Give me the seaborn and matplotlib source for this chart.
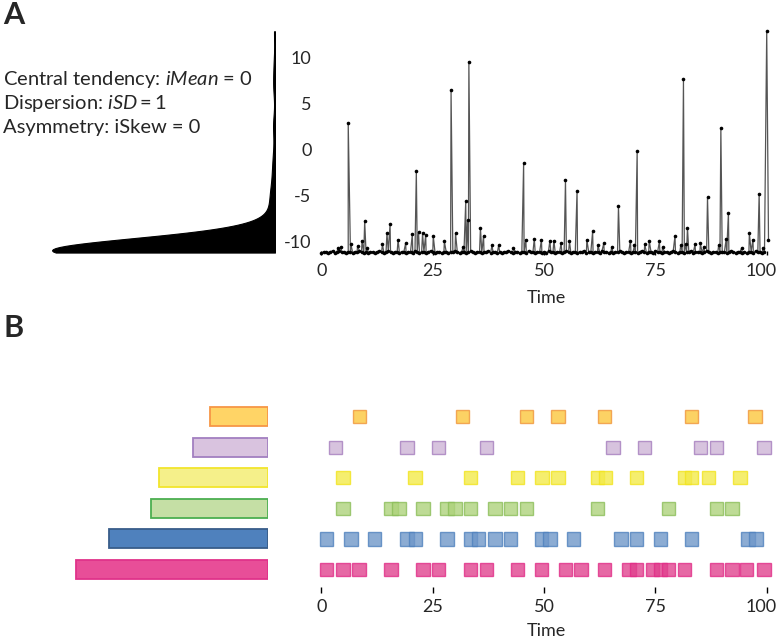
import numpy as np
import pandas as pd
import matplotlib
matplotlib.use("Agg")
import matplotlib.pyplot as plt
import matplotlib.transforms as mtransforms
import seaborn as sns

# Panel A: time series (baseline samples every half time unit + read-off bumps/peaks)
base_value = [
    -11.2, -11.1, -11.1, -11.2, -11.1, -11.0, -11.2, -11.1, -11.0, -11.1,
    -11.1, -11.2, -11.1, -11.1, -11.2, -11.1, -11.1, -11.0, -11.1, -11.2,
    -11.1, -11.2, -11.1, -11.1, -11.2, -11.1, -11.0, -11.1, -11.2, -11.1,
    -11.0, -11.1, -11.2, -11.1, -11.1, -11.2, -11.1, -11.1, -11.2, -11.1,
    -11.1, -11.2, -11.0, -11.1, -11.2, -11.1, -11.1, -11.2, -11.1, -11.0,
    -11.1, -11.2, -11.1, -11.1, -11.2, -11.1, -11.1, -11.2, -11.1, -11.1,
    -11.0, -11.1, -11.2, -11.1, -11.1, -11.2, -11.1, -11.0, -11.1, -11.2,
    -11.1, -11.1, -11.2, -11.1, -11.1, -11.0, -11.2, -11.1, -11.1, -11.2,
    -11.1, -11.2, -11.1, -11.1, -11.0, -11.1, -11.2, -11.1, -11.1, -11.2,
    -11.1, -11.1, -11.2, -11.0, -11.1, -11.1, -11.2, -11.1, -11.1, -11.2,
    -11.1, -11.2, -11.0, -11.1, -11.1, -11.2, -11.1, -11.1, -11.2, -11.1,
    -11.0, -11.1, -11.2, -11.1, -11.1, -11.2, -11.1, -11.1, -11.0, -11.2,
    -11.1, -11.1, -11.2, -11.1, -11.1, -11.2, -11.0, -11.1, -11.1, -11.2,
    -11.1, -11.2, -11.1, -11.1, -11.0, -11.1, -11.2, -11.1, -11.1, -11.2,
    -11.1, -11.1, -11.2, -11.1, -11.0, -11.1, -11.2, -11.1, -11.1, -11.2,
    -11.0, -11.1, -11.1, -11.2, -11.1, -11.1, -11.2, -11.1, -11.0, -11.1,
    -11.2, -11.1, -11.1, -11.2, -11.1, -11.1, -11.0, -11.2, -11.1, -11.1,
    -11.1, -11.2, -11.1, -11.0, -11.1, -11.2, -11.1, -11.1, -11.2, -11.1,
    -11.1, -11.1, -11.2, -11.1, -11.0, -11.1, -11.2, -11.1, -11.1, -11.2,
    -11.1, -11.2, -11.1, -11.1, -11.2, -11.0, -11.1, -11.1, -11.2, -11.1,
]
peak_time = [3.7, 4.4, 6.0, 6.6, 8.1, 9.1, 9.7, 10.3, 13.7, 14.7, 15.4, 17.2,
             18.9, 20.4, 21.3, 21.8, 22.7, 23.4, 25.1, 27.6, 29.1, 30.1, 31.8,
             32.4, 32.8, 33.1, 35.7, 36.4, 38.3, 39.8, 43.1, 45.4, 45.9, 47.8,
             49.4, 51.3, 52.2, 53.8, 54.8, 55.7, 57.4, 59.6, 60.9, 62.1, 63.4,
             65.2, 66.7, 69.4, 70.3, 70.9, 72.6, 73.6, 75.9, 76.6, 79.4, 80.7,
             81.3, 81.8, 82.2, 83.9, 85.1, 85.9, 86.7, 89.2, 89.7, 90.9, 91.4,
             94.4, 96.1, 96.9, 98.3, 99.2, 100.0, 100.4]
peak_value = [-10.7, -10.6, 2.9, -10.3, -10.5, -9.9, -7.8, -10.7, -10.3, -9.1,
              -8.1, -9.8, -10.2, -9.2, -2.4, -9.0, -9.1, -9.3, -9.4, -10.0,
              6.4, -9.1, -10.6, -5.6, -7.7, 9.5, -8.5, -9.4, -10.4, -10.4,
              -10.7, -1.5, -9.8, -9.7, -9.8, -9.9, -9.9, -10.2, -3.3, -10.0,
              -4.5, -9.8, -8.9, -10.4, -10.2, -10.6, -6.2, -9.9, -10.4, -0.2,
              -10.3, -9.9, -10.0, -10.6, -9.4, -10.4, 7.6, -10.3, -8.5, -10.3,
              -10.2, -10.6, -5.2, -10.4, 2.3, -9.7, -6.9, -10.7, -9.1, -9.8,
              -4.8, -10.7, 12.8, -9.8]
y_ticks = [10, 5, 0, -5, -10]
x_ticks = [0, 25, 50, 75, 100]

# Panel B: event times per row
row_names = ["orange", "purple", "yellow", "green", "blue", "pink"]
events_orange = [8.5, 31.7, 46.0, 53.1, 63.6, 83.1, 97.4]
events_purple = [3.1, 19.2, 26.3, 37.1, 65.5, 72.6, 85.1, 88.7, 99.4]
events_yellow = [4.8, 21.0, 33.4, 44.1, 49.5, 53.1, 62.0, 63.8, 70.7, 81.5,
                 83.1, 86.9, 94.0]
events_green = [4.8, 15.6, 17.4, 22.8, 28.2, 30.0, 33.4, 39.0, 42.5, 46.1,
                62.0, 78.0, 88.7, 92.2]
events_blue = [1.2, 6.6, 11.9, 19.2, 21.1, 28.2, 33.4, 35.2, 39.0, 42.5, 49.4,
               51.3, 56.6, 67.3, 70.7, 76.2, 83.1, 95.8, 97.6]
events_pink = [1.2, 4.8, 8.4, 15.6, 22.8, 26.3, 33.4, 37.1, 44.1, 49.4, 54.8,
               58.3, 63.6, 69.1, 70.8, 74.4, 76.2, 78.0, 81.5, 88.7, 92.2,
               95.4, 99.4]
bar_fill = ["#FFD466", "#D9C3DF", "#F5F08A", "#C5DFA5", "#4F81BD", "#E84E98"]
bar_edge = ["#F79646", "#A27FC0", "#F2E52C", "#4CAF50", "#385D8A", "#E0338A"]
sq_fill = ["#FCC73D", "#CEB4D6", "#F3EA4A", "#AED37C", "#6F97C9", "#E0438F"]
sq_edge = ["#F0963C", "#A57DBE", "#F2E41E", "#8CBE5A", "#5082BE", "#E12D87"]

sns.set_theme(style="white")
plt.rcParams["font.family"] = ["Lato", "DejaVu Sans"]
plt.rcParams["mathtext.fontset"] = "custom"
plt.rcParams["mathtext.rm"] = "Lato"
plt.rcParams["mathtext.it"] = "Lato:italic"
plt.rcParams["axes.unicode_minus"] = False

W, H = 780, 642
fig = plt.figure(figsize=(W / 100, H / 100), dpi=100)

def rect(x0, y0, x1, y1):
    return [x0 / W, 1 - y1 / H, (x1 - x0) / W, (y1 - y0) / H]

ts = pd.DataFrame({
    "time": np.concatenate([np.arange(0, 100, 0.5), peak_time]),
    "value": np.concatenate([base_value, peak_value]),
}).sort_values("time", kind="stable")

ylim_a = (-11.41, 13.48)
xlim_t = (-1.01, 101.86)

# --- A: density
ax_d = fig.add_axes(rect(52, 25, 275, 254.5))
sns.kdeplot(y=ts["value"], ax=ax_d, fill=True, color="black", alpha=1,
            cut=0, bw_adjust=1.3, linewidth=0.8)
dmax = max(p.vertices[:, 0].max() for p in ax_d.collections[0].get_paths())
ax_d.set_xlim(dmax, 0)
ax_d.set_ylim(*ylim_a)
ax_d.axis("off")

# --- A: time series
ax_t = fig.add_axes(rect(317, 25, 775, 254.5))
sns.lineplot(data=ts, x="time", y="value", ax=ax_t, color="#555555",
             estimator=None, sort=False, linewidth=0.9, marker="o",
             markersize=2.6, markeredgewidth=0, markerfacecolor="black")
ax_t.set_xlim(*xlim_t)
ax_t.set_ylim(*ylim_a)
ax_t.set_xticks(x_ticks)
ax_t.set_yticks(y_ticks)
sns.despine(ax=ax_t, left=True, bottom=True)
ax_t.tick_params(axis="x", direction="in", length=3, width=1, color="black",
                 bottom=True, pad=6, labelsize=13)
ax_t.tick_params(axis="y", length=0, pad=4, labelsize=13)
ax_t.set_xlabel("Time", fontsize=13, labelpad=8)
ax_t.set_ylabel("")

fig.text(3 / W, 1 - 85 / H, r"Central tendency: $\mathit{iMean}$ = 0", fontsize=14.5, va="baseline")
fig.text(3 / W, 1 - 109 / H, r"Dispersion: $\mathit{iSD = 1}$", fontsize=14.5, va="baseline")
fig.text(3 / W, 1 - 133 / H, "Asymmetry: iSkew = 0", fontsize=14.5, va="baseline")
fig.text(13.5 / W, 1 - 15 / H, "A", fontsize=22, fontweight="bold", ha="center", va="center")
fig.text(14 / W, 1 - 328 / H, "B", fontsize=22, fontweight="bold", ha="center", va="center")

# --- B: counts bars
events = [events_orange, events_purple, events_yellow, events_green, events_blue, events_pink]
ylim_b = (5.77, -0.546)
ax_b = fig.add_axes(rect(52, 400, 268, 593))
counts = pd.DataFrame({"row": row_names, "count": [len(e) for e in events]})
sns.barplot(data=counts, x="count", y="row", hue="row", palette=bar_fill,
            orient="h", width=0.62, legend=False, saturation=1, ax=ax_b,
            linewidth=1.3)
for patch, ec in zip(ax_b.patches, bar_edge):
    patch.set_edgecolor(ec)
ax_b.set_xlim(216 / 8.35, 0)
ax_b.set_ylim(*ylim_b)
ax_b.axis("off")

# --- B: event squares
ax_e = fig.add_axes(rect(317, 400, 775, 593))
for i, ev in enumerate(events):
    ax_e.bar(ev, 0.435, width=2.99, bottom=i - 0.2175, color=sq_fill[i],
             alpha=0.8, edgecolor=sq_edge[i], linewidth=1.0)
ax_e.set_xlim(*xlim_t)
ax_e.set_ylim(*ylim_b)
ax_e.set_xticks(x_ticks)
ax_e.set_yticks([])
sns.despine(ax=ax_e, left=True, bottom=True)
ax_e.tick_params(axis="x", direction="in", length=4, width=1, color="black",
                 bottom=True, pad=4, labelsize=13)
ax_e.set_xlabel("Time", fontsize=13, labelpad=6)

# the last tick label sits a little left of its tick in the reference
shift = mtransforms.ScaledTranslation(-6 / 100, 0, fig.dpi_scale_trans)
for ax in (ax_t, ax_e):
    lab = ax.get_xticklabels()[-1]
    lab.set_transform(lab.get_transform() + shift)

fig.savefig("out.png", dpi=100)
